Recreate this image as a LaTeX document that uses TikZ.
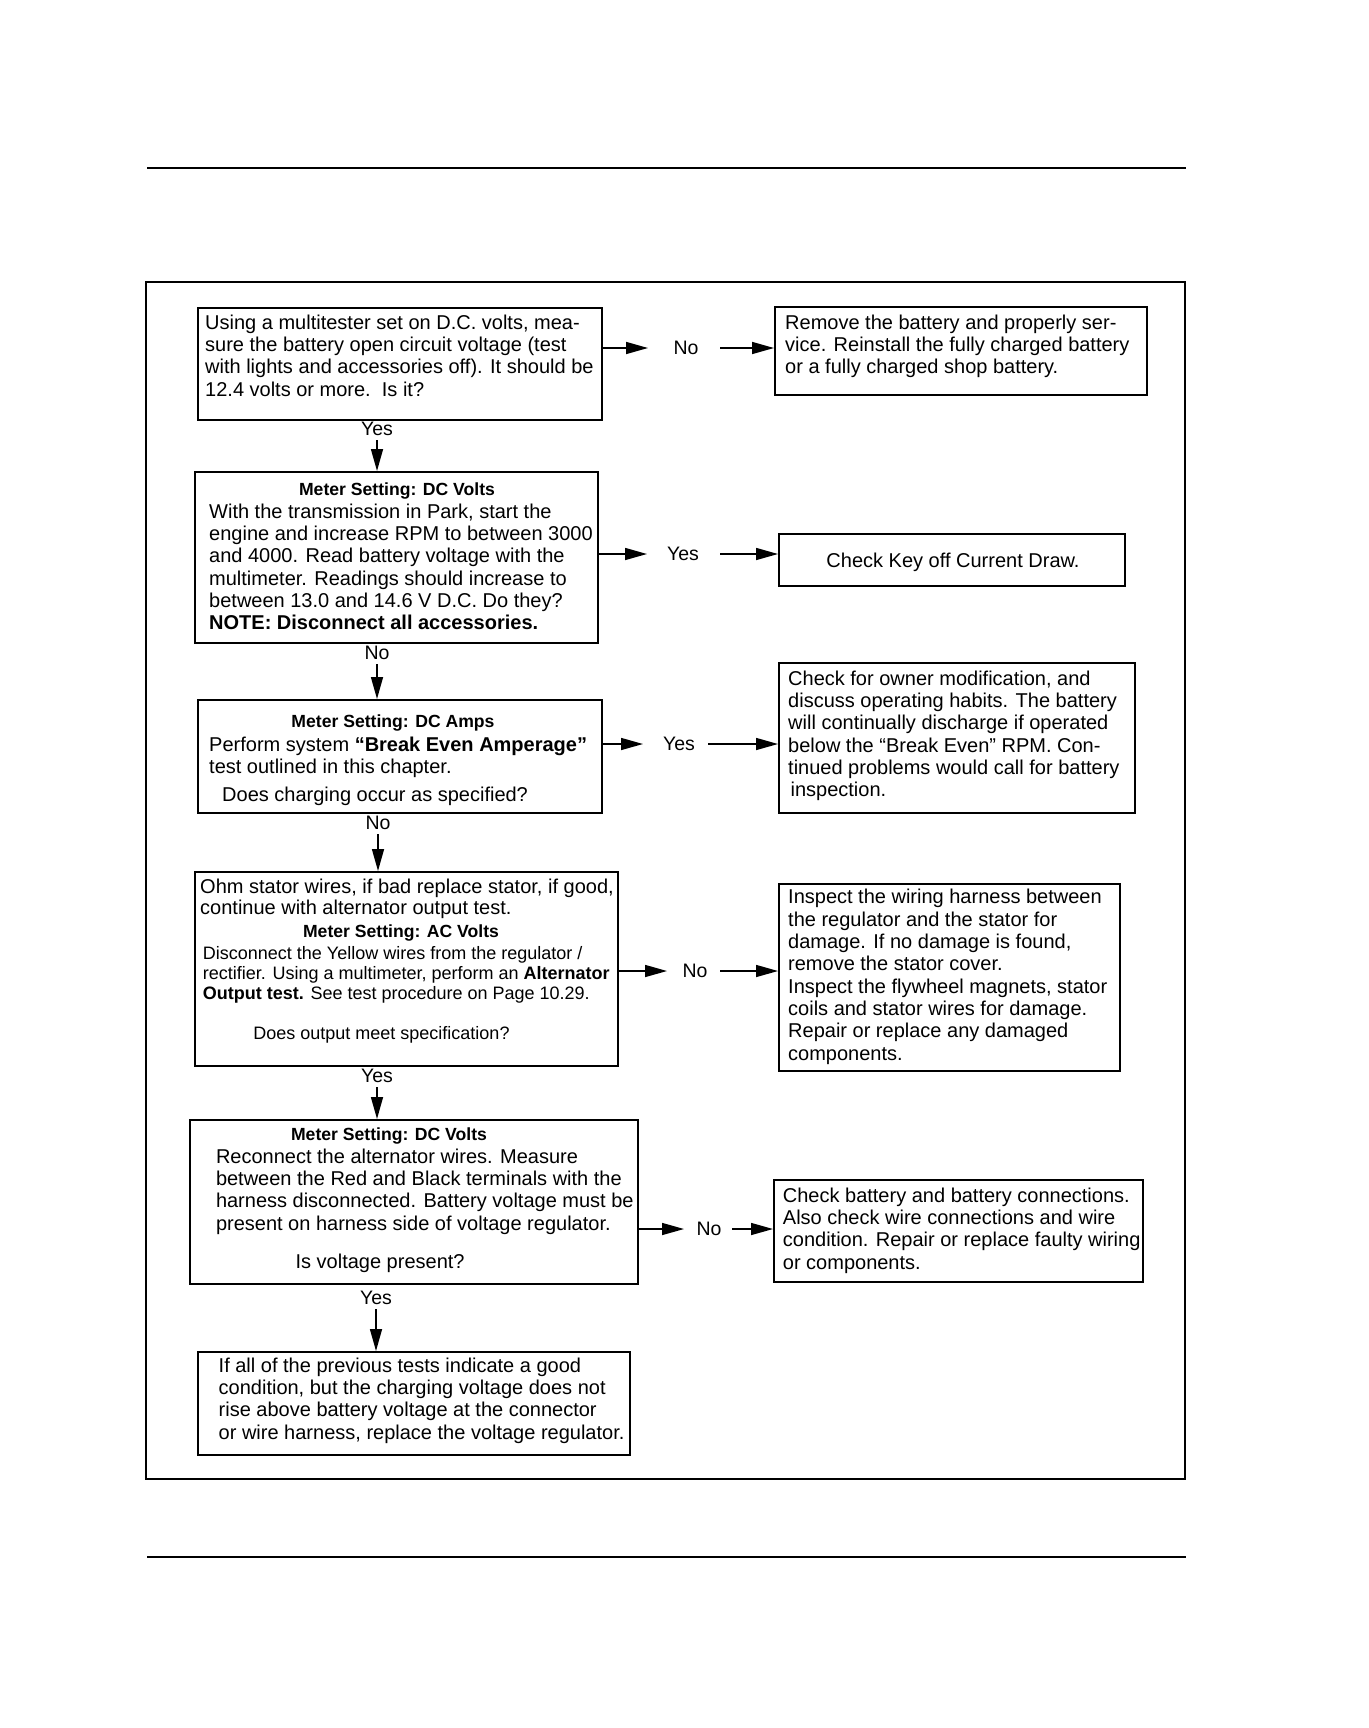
\documentclass[tikz,border=0pt]{standalone}
\usepackage{fontspec}
\setmainfont{Liberation Sans}
\usetikzlibrary{arrows.meta}
\begin{document}
\begin{tikzpicture}[x=1pt,y=1pt,
  box/.style={draw, line width=1.6pt, inner sep=0pt, anchor=north west},
  body/.style={font=\fontsize{20}{22.3}\selectfont, align=left, inner sep=0pt, anchor=north west},
  small/.style={font=\fontsize{18}{20}\selectfont, align=left, inner sep=0pt, anchor=north west},
  head/.style={font=\fontsize{17.6}{20}\selectfont\bfseries, inner sep=0pt, anchor=base},
  lbl/.style={font=\fontsize{19.5}{20}\selectfont, inner sep=0pt, anchor=center},
  arr/.style={line width=1.5pt, -{Triangle[length=22pt,width=12pt]}},
  rule/.style={line width=2pt}]
\useasboundingbox (0,0) rectangle (1368,-1728);
\fill[white] (0,0) rectangle (1368,-1728);
% page rules and frame
\draw[rule] (147,-168) -- (1186,-168);
\draw[rule] (147,-1557) -- (1186,-1557);
\draw[rule] (146,-282) rectangle (1185,-1479);
% boxes
\node[box, minimum width=404, minimum height=112] (A) at (197,-307) {};
\node[box, minimum width=372, minimum height=88] (B) at (774,-306) {};
\node[box, minimum width=403, minimum height=171] (C) at (194,-471) {};
\node[box, minimum width=346, minimum height=52] (D) at (778,-533) {};
\node[box, minimum width=404, minimum height=113] (E) at (197,-699) {};
\node[box, minimum width=356, minimum height=150] (F) at (778,-662) {};
\node[box, minimum width=423, minimum height=194] (G) at (194,-871) {};
\node[box, minimum width=341, minimum height=187] (H) at (778,-883) {};
\node[box, minimum width=448, minimum height=164] (I) at (189,-1119) {};
\node[box, minimum width=369, minimum height=102] (J) at (773,-1179) {};
\node[box, minimum width=432, minimum height=103] (K) at (197,-1351) {};
% texts
\node[body] (At) at (205,-313) {\rule{0pt}{16pt}Using a multitester set on D.C. volts, mea-\\sure the battery open circuit voltage (test\\with lights and accessories off). It should be\\12.4 volts or more.\ \ Is it?};
\node[body] (Bt) at (785,-313) {\rule{0pt}{16pt}Remove the battery and properly ser-\\vice. Reinstall the fully charged battery\\or a fully charged shop battery.};
\node[head] (Ch) at (397,-495) {Meter Setting: DC Volts};
\node[body] (Ct) at (209,-502) {\rule{0pt}{16pt}With the transmission in Park, start the\\engine and increase RPM to between 3000\\and 4000. Read battery voltage with the\\multimeter. Readings should increase to\\between 13.0 and 14.6 V D.C. Do they?\\\textbf{NOTE: Disconnect all accessories.}};
\node[font=\fontsize{20}{22.3}\selectfont, inner sep=0pt, anchor=base] (Dt) at (953,-567) {Check Key off Current Draw.};
\node[head] (Eh) at (393,-727) {Meter Setting: DC Amps};
\node[body] (Et) at (209,-735) {\rule{0pt}{16pt}Perform system \textbf{“Break Even Amperage”}\\test outlined in this chapter.};
\node[font=\fontsize{20}{22.3}\selectfont, inner sep=0pt, anchor=base west] (Eq) at (222,-801.5) {Does charging occur as specified?};
\node[body] (Ft) at (788,-669) {\rule{0pt}{16pt}Check for owner modification, and\\discuss operating habits. The battery\\will continually discharge if operated\\below the “Break Even” RPM. Con-\\tinued problems would call for battery\\\hspace*{2.4pt}inspection.};
\node[body, font=\fontsize{20}{20.6}\selectfont] (Gt) at (200,-877.7) {\rule{0pt}{16pt}Ohm stator wires, if bad replace stator, if good,\\continue with alternator output test.};
\node[head] (Gh) at (401,-937) {Meter Setting: AC Volts};
\node[small] (Gs) at (202.7,-945.2) {\rule{0pt}{14.5pt}Disconnect the Yellow wires from the regulator /\\rectifier. Using a multimeter, perform an \textbf{Alternator}\\\textbf{Output test.} See test procedure on Page 10.29.};
\node[font=\fontsize{18}{20}\selectfont, inner sep=0pt, anchor=base west] (Gq) at (253.2,-1039.7) {Does output meet specification?};
\node[body] (Ht) at (788,-887.7) {\rule{0pt}{16pt}Inspect the wiring harness between\\the regulator and the stator for\\damage. If no damage is found,\\remove the stator cover.\\Inspect the flywheel magnets, stator\\coils and stator wires for damage.\\Repair or replace any damaged\\components.};
\node[head] (Ih) at (389,-1140) {Meter Setting: DC Volts};
\node[body] (It) at (215.8,-1147) {\rule{0pt}{16pt}Reconnect the alternator wires. Measure\\between the Red and Black terminals with the\\harness disconnected. Battery voltage must be\\present on harness side of voltage regulator.};
\node[font=\fontsize{20}{22.3}\selectfont, inner sep=0pt, anchor=base west] (Iq) at (295.4,-1268.7) {Is voltage present?};
\node[body] (Jt) at (782.7,-1186) {\rule{0pt}{16pt}Check battery and battery connections.\\Also check wire connections and wire\\condition. Repair or replace faulty wiring\\or components.};
\node[body] (Kt) at (218.5,-1356) {\rule{0pt}{16pt}If all of the previous tests indicate a good\\condition, but the charging voltage does not\\rise above battery voltage at the connector\\or wire harness, replace the voltage regulator.};
% horizontal labels and arrows
\node[lbl] (lA) at (686,-348) {No};
\node[lbl] (lC) at (683,-554) {Yes};
\node[lbl] (lE) at (679,-744) {Yes};
\node[lbl] (lG) at (695,-971) {No};
\node[lbl] (lI) at (709,-1229) {No};
\draw[arr] (A.east |- lA) -- ([xshift=-38pt]lA.center);
\draw[arr] ([xshift=34pt]lA.center) -- (lA -| B.west);
\draw[arr] (C.east |- lC) -- ([xshift=-36pt]lC.center);
\draw[arr] ([xshift=37pt]lC.center) -- (lC -| D.west);
\draw[arr] (E.east |- lE) -- ([xshift=-36pt]lE.center);
\draw[arr] ([xshift=29pt]lE.center) -- (lE -| F.west);
\draw[arr] (G.east |- lG) -- ([xshift=-28pt]lG.center);
\draw[arr] ([xshift=25pt]lG.center) -- (lG -| H.west);
\draw[arr] (I.east |- lI) -- ([xshift=-25pt]lI.center);
\draw[arr] ([xshift=23pt]lI.center) -- (lI -| J.west);
% vertical labels and arrows
\node[lbl] (vAC) at (377,-429) {Yes};
\node[lbl] (vCE) at (377,-653) {No};
\node[lbl] (vEG) at (378,-823) {No};
\node[lbl] (vGI) at (377,-1076) {Yes};
\node[lbl] (vIK) at (376,-1298) {Yes};
\draw[arr] ([yshift=-11pt]vAC.center) -- (vAC |- C.north);
\draw[arr] ([yshift=-11pt]vCE.center) -- (vCE |- E.north);
\draw[arr] ([yshift=-11pt]vEG.center) -- (vEG |- G.north);
\draw[arr] ([yshift=-11pt]vGI.center) -- (vGI |- I.north);
\draw[arr] ([yshift=-11pt]vIK.center) -- (vIK |- K.north);
\end{tikzpicture}
\end{document}
